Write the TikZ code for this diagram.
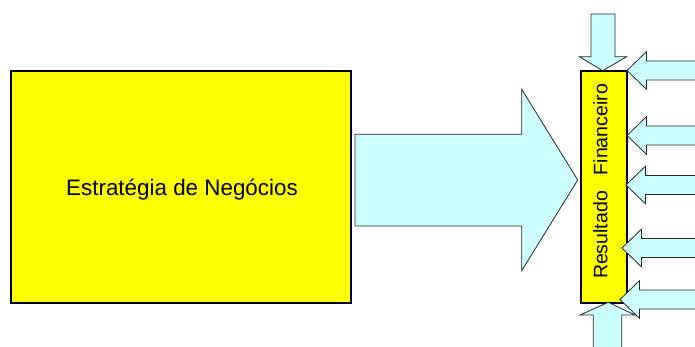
\documentclass[tikz,border=0pt]{standalone}
\usepackage{fontspec}
\setmainfont{Liberation Sans}

\definecolor{boxyellow}{HTML}{FFFF00}
\definecolor{arrowcyan}{HTML}{CCFFFF}

\tikzset{
  panel/.style={draw=black, line width=2.5pt, fill=boxyellow, inner sep=0pt, outer sep=0pt},
  blockarrow/.style={draw=black!85, line width=0.8pt, fill=arrowcyan, line join=miter},
  bigtext/.style={font=\fontsize{22.4}{26}\selectfont, inner sep=0pt},
  sidetext/.style={font=\fontsize{19.5}{23}\selectfont, rotate=90, inner sep=0pt},
}

\begin{document}
\begin{tikzpicture}[x=1pt, y=-1pt]
  \useasboundingbox (0,0) rectangle (695,347);
  \clip (0,0) rectangle (695,347);
  % Boxes
  \node[panel, minimum width=340pt, minimum height=232pt] (estrategia) at (181,187) {};
  \node[bigtext, anchor=base] (titulo) at (182,196) {Estratégia de Negócios};
  \node[panel, minimum width=46pt, minimum height=232pt] (resultado) at (604,187) {};
  \node[sidetext] (rotulo) at (600.5,181.5) {Resultado\hspace{16pt}Financeiro};
  % Main arrow
  \draw[blockarrow] (355,134.3) -- (521.7,134.3) -- (521.7,89.3) -- (577.7,180)
    -- (521.7,270.7) -- (521.7,226) -- (355,226) -- cycle;
  % Top and bottom arrows
  \draw[blockarrow] (591,14) -- (591,56.7) -- (579.3,56.7) -- (602.7,70.7)
    -- (626.7,56.7) -- (615,56.7) -- (615,14) -- cycle;
  \draw[blockarrow] (593.3,360) -- (593.3,315) -- (580,315) -- (608.3,302.3)
    -- (635,315) -- (621.7,315) -- (621.7,360) -- cycle;
  % Side arrows
  \foreach \tx/\ty in {627/70.5, 627/135.5, 626/185, 622/248, 620/299.5} {
    \draw[blockarrow] (\tx,\ty) -- ({\tx+19.4},{\ty-18.8}) -- ({\tx+19.4},{\ty-9.5})
      -- (710,{\ty-9.5}) -- (710,{\ty+9.5}) -- ({\tx+19.4},{\ty+9.5})
      -- ({\tx+19.4},{\ty+18.8}) -- cycle;
  }
\end{tikzpicture}
\end{document}
